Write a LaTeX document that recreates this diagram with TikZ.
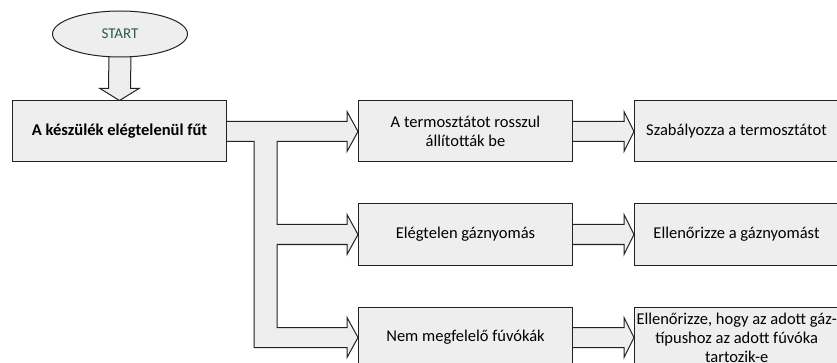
\documentclass[tikz,border=0pt]{standalone}
\usepackage{fontspec}
\setmainfont{Carlito}
\usetikzlibrary{positioning,calc,shapes.geometric,backgrounds}
\definecolor{boxgray}{HTML}{EEEEEE}
\definecolor{edgegray}{HTML}{222222}
\definecolor{startgreen}{HTML}{2D5A40}

\begin{document}
\begin{tikzpicture}[x=1pt,y=-1pt,node distance=41pt,
  box/.style={draw=edgegray,line width=1pt,fill=boxgray,align=center,minimum width=214pt,minimum height=61pt,inner sep=2pt,font=\fontsize{16.5}{19.5}\selectfont},
  fixbox/.style={box,minimum width=204pt},
  startnode/.style={ellipse,draw=edgegray,line width=1pt,fill=boxgray,minimum width=135pt,minimum height=46pt,text=startgreen,font=\fontsize{15}{18}\selectfont},
  barrow/.style={draw=edgegray,line width=1pt,fill=boxgray,line join=miter}]
\useasboundingbox (0,0) rectangle (837,363);
\node[startnode] (start) at (120,34) {START};
\node[box,minimum height=61pt,font=\fontsize{16.5}{19.5}\selectfont\bfseries] (main) at (119.5,131.5) {A készülék elégtelenül fűt};
\node[box,right=131pt of main] (cause1) {A termosztátot rosszul\\állították be};
\node[box,below=of cause1] (cause2) {Elégtelen gáznyomás};
\node[box,below=of cause2] (cause3) {Nem megfelelő fúvókák};
\node[fixbox,right=61pt of cause1] (fix1) {Szabályozza a termosztátot};
\node[fixbox,right=61pt of cause2] (fix2) {Ellenőrizze a gáznyomást};
\node[fixbox,right=61pt of cause3,font=\fontsize{16.5}{19}\selectfont] (fix3) {Ellenőrizze, hogy az adott gáz-\\típushoz az adott fúvóka\\tartozik-e};
\begin{scope}[on background layer]
% start -> main
\draw[barrow] ($(start.south)+(-11,-4)$) -- ($(main.north)+(-11,-12)$) -- ++(-8.5,0) -- (main.north) -- ++(19.5,-12) -- ++(-8.5,0) -- ($(start.south)+(11,-4)$) -- cycle;
% main -> causes
\draw[barrow] ($(main.east |- cause1.west)+(-5,-10)$) -- ($(cause1.west)+(-11,-10)$) -- ++(0,-10) -- (cause1.west) -- ++(-11,20) -- ++(0,-10)
  -- ($(cause1.west)+(-81,10)$) -- ($(cause2.west)+(-81,-10)$) -- ($(cause2.west)+(-11,-10)$) -- ++(0,-10) -- (cause2.west) -- ++(-11,20) -- ++(0,-10)
  -- ($(cause2.west)+(-81,10)$) -- ($(cause3.west)+(-81,-10)$) -- ($(cause3.west)+(-11,-10)$) -- ++(0,-10) -- (cause3.west) -- ++(-11,20) -- ++(0,-10)
  -- ($(cause3.west)+(-104,10)$) -- ($(cause1.west)+(-104,10)$) -- ($(main.east |- cause1.west)+(-5,10)$) -- cycle;
% causes -> fixes
\foreach \i in {1,2,3}
  \draw[barrow] ($(cause\i.east)+(-5,-10)$) -- ($(fix\i.west |- cause\i.east)+(-10,-10)$) -- ++(0,-10) -- (fix\i.west |- cause\i.east) -- ++(-10,20) -- ++(0,-10) -- ($(cause\i.east)+(-5,10)$) -- cycle;
\end{scope}
\end{tikzpicture}
\end{document}
